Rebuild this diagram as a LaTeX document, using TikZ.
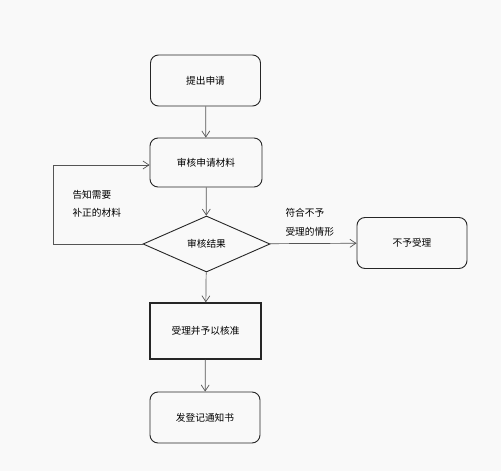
\documentclass[tikz,border=0pt]{standalone}
\usepackage{fontspec}
\newfontfamily\cjk{Noto Sans CJK SC}
\usetikzlibrary{shapes.geometric,arrows.meta}
\definecolor{bgcol}{RGB}{249,249,249}
\definecolor{linecol}{RGB}{85,85,85}

\begin{document}
\begin{tikzpicture}[x=1pt,y=-1pt,
                    every node/.style={font=\cjk\fontsize{9.7}{12}\selectfont},
                    rbox/.style={draw=black!85,line width=0.9pt,rounded corners=8pt,minimum width=110pt,minimum height=51pt,inner sep=0pt},
                    jbox/.style={draw=black!85,line width=0.9pt,shape=diamond,aspect=2.27,minimum width=127pt,minimum height=56pt,inner sep=0pt},
                    sbox/.style={draw=black!85,line width=1.4pt,minimum width=111pt,minimum height=56pt,inner sep=0pt},
                    note/.style={anchor=west,align=left,font=\cjk\fontsize{9.7}{18.5}\selectfont},
                    arr/.style={draw=linecol,line width=0.7pt,-{Straight Barb[length=6pt,width=8pt]}}]

\fill[bgcol] (0,0) rectangle (501,471);
\useasboundingbox (0,0) rectangle (501,471);

\node[rbox] (tjsq) at (205.5,80.5) {提出申请};
\node[rbox,minimum width=112pt,minimum height=49pt] (shcl) at (206,162.5) {审核申请材料};
\node[jbox] (shjg) at (206.5,244) {审核结果};
\node[rbox] (byl) at (412,243) {不予受理};
\node[sbox] (slhz) at (205.5,331) {受理并予以核准};
\node[rbox] (fdtz) at (205,417.5) {发登记通知书};

% labels on the two branches
\node[note] (bzcl) at (69,204) {告知需要\\补正的材料};
\node[note] (fhby) at (282,222.5) {符合不予\\受理的情形};

\draw[arr] (tjsq) -- (shcl);
\draw[arr] (shcl) -- (shjg);
\draw[arr] (shjg) -- (byl);
\draw[arr] (shjg) -- (slhz);
\draw[arr] (slhz) -- (fdtz);

\coordinate (zs) at (53,165);
\draw[arr] (shjg.west) -| (zs) -- (shcl.west |- zs);

\end{tikzpicture}
\end{document}
